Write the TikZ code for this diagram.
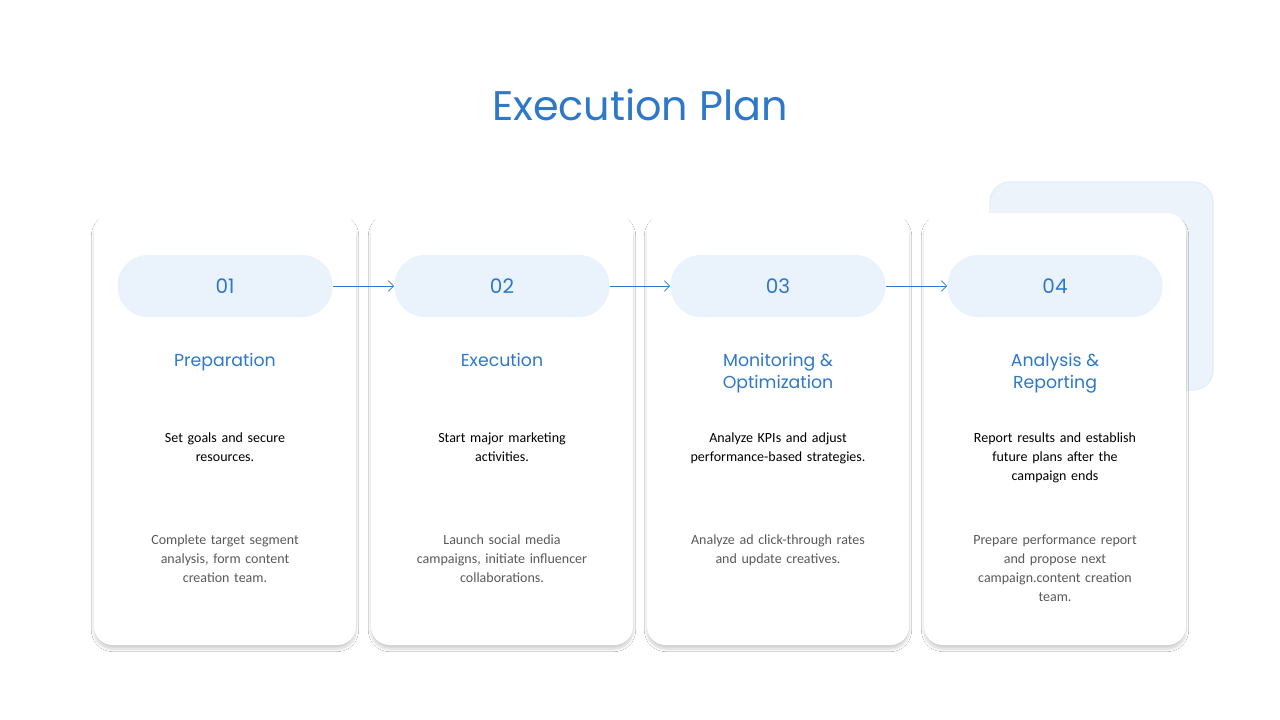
\documentclass[tikz,border=0pt]{standalone}
\usepackage{fontspec}
\setmainfont{Carlito}
\newfontfamily\headfont{Poppins}
\usetikzlibrary{shadows.blur}
\definecolor{blu}{HTML}{2E78C9}
\definecolor{pill}{HTML}{EAF2FB}
\definecolor{back}{HTML}{E6EEF8}
\definecolor{graytxt}{HTML}{595959}
\tikzset{
 card/.style={fill=white,rounded corners=14pt,blur shadow={shadow blur steps=12,shadow xshift=0pt,shadow yshift=-3pt,shadow opacity=18,shadow blur extra rounding=3pt}},
 pillbox/.style={fill=pill,rounded corners=23pt,minimum width=215*0.75pt,minimum height=62*0.75pt,text=blu,font=\headfont\fontsize{15}{18}\selectfont},
 head/.style={text=blu,font=\headfont\fontsize{13}{16}\selectfont,align=center,anchor=north},
 main/.style={font=\fontsize{10.5}{14.3}\selectfont,align=center,anchor=north,text width=210*0.75pt},
 sub/.style={font=\fontsize{10.5}{14.3}\selectfont,align=center,anchor=north,text=graytxt,text width=190*0.75pt},
 arr/.style={draw=blu,-{Straight Barb[length=4pt]},line width=0.6pt}
}
\usetikzlibrary{arrows.meta}
\begin{document}
\begin{tikzpicture}[x=0.75pt,y=-0.75pt]
\useasboundingbox (0,0) rectangle (1280,720);
\fill[white] (0,0) rectangle (1280,720);
\node[text=blu,font=\headfont\fontsize{31}{36}\selectfont] (title) at (640,105) {Execution Plan};
\draw[back,fill=back!70,line width=1pt,rounded corners=15pt] (990,182) rectangle (1213,390);
\foreach \i/\x in {1/94,2/371,3/647,4/924}{
 \path[card] (\x,213) rectangle ++(262,432);
 \node[pillbox] (p\i) at (\x+131,286) {0\i};
}
\foreach \a/\b in {1/2,2/3,3/4}{\draw[arr] (p\a.east) -- (p\b.west);}
\node[head] (h1) at (225,349) {Preparation};
\node[head] (h2) at (502,349) {Execution};
\node[head] (h3) at (778,349) {Monitoring \&\\Optimization};
\node[head] (h4) at (1055,349) {Analysis \&\\Reporting};
\node[main] (m1) at (225,428) {Set goals and secure\\resources.};
\node[main] (m2) at (502,428) {Start major marketing\\activities.};
\node[main] (m3) at (778,428) {Analyze KPIs and adjust\\performance-based strategies.};
\node[main] (m4) at (1055,428) {Report results and establish\\future plans after the\\campaign ends};
\node[sub] (s1) at (225,530) {Complete target segment\\analysis, form content\\creation team.};
\node[sub] (s2) at (502,530) {Launch social media\\campaigns, initiate influencer\\collaborations.};
\node[sub] (s3) at (778,530) {Analyze ad click-through rates\\and update creatives.};
\node[sub] (s4) at (1055,530) {Prepare performance report\\and propose next\\campaign.content creation\\team.};
\end{tikzpicture}
\end{document}
